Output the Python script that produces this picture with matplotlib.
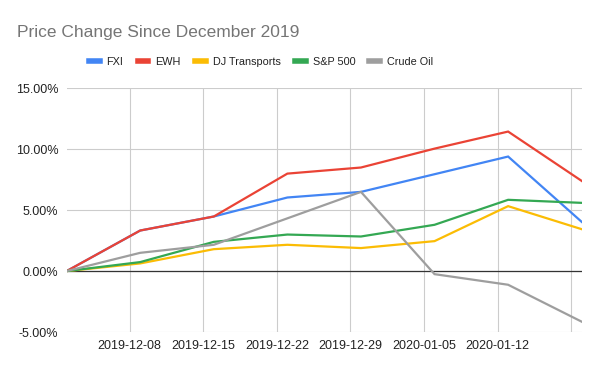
import numpy as np
import matplotlib
matplotlib.use("Agg")
import matplotlib.pyplot as plt
import matplotlib.dates as mdates
from matplotlib.ticker import FuncFormatter, FixedLocator

plt.rcParams['font.family'] = ['Liberation Sans', 'DejaVu Sans']

# weekly closes, % change since first week of December 2019
dates = np.array(['2019-12-02', '2019-12-09', '2019-12-16', '2019-12-23',
                  '2019-12-30', '2020-01-06', '2020-01-13', '2020-01-20'],
                 dtype='datetime64[D]')
fxi = [0.0, 3.33, 4.48, 6.04, 6.50, 7.95, 9.40, 4.04]
ewh = [0.0, 3.33, 4.48, 8.00, 8.50, 10.05, 11.45, 7.40]
dj_transports = [0.0, 0.63, 1.80, 2.16, 1.89, 2.46, 5.33, 3.44]
sp500 = [0.0, 0.74, 2.40, 3.00, 2.84, 3.80, 5.85, 5.60]
crude_oil = [0.0, 1.50, 2.16, 4.33, 6.50, -0.25, -1.12, -4.15]

series = [
    ('FXI', fxi, '#4285F4'),
    ('EWH', ewh, '#EA4335'),
    ('DJ Transports', dj_transports, '#FBBC04'),
    ('S&P 500', sp500, '#34A853'),
    ('Crude Oil', crude_oil, '#9E9E9E'),
]

tick_dates = np.array(['2019-12-08', '2019-12-15', '2019-12-22', '2019-12-29',
                       '2020-01-05', '2020-01-12', '2020-01-19'], dtype='datetime64[D]')
y_ticks = [-5, 0, 5, 10, 15]

fig = plt.figure(figsize=(6, 3.71), dpi=100)
ax = fig.add_axes([0.111, 0.105, 0.8585, 0.657])

x = mdates.date2num(dates.astype('datetime64[s]').astype(object))
for name, vals, color in series:
    ax.plot(x, vals, color=color, lw=1.6, label=name, solid_joinstyle='miter', zorder=3)

ax.set_xlim(x[0], x[-1])
ax.set_ylim(-5, 15)

tx = mdates.date2num(tick_dates.astype('datetime64[s]').astype(object))
ax.xaxis.set_major_locator(FixedLocator(tx))
labels = [str(d) for d in tick_dates]
labels[-1] = ''
ax.set_xticklabels(labels)
ax.set_yticks(y_ticks)
ax.yaxis.set_major_formatter(FuncFormatter(lambda v, p: f'{v:.2f}%'))

ax.grid(True, color='#cccccc', lw=0.8, zorder=0)
ax.axhline(0, color='#333333', lw=0.9, zorder=2)
for s in ax.spines.values():
    s.set_visible(False)
ax.tick_params(length=0, labelsize=9, colors='#222222', pad=6)

fig.text(0.028, 0.900, 'Price Change Since December 2019', fontsize=12.5,
         color='#757575', va='baseline')

leg = fig.legend(loc='center', bbox_to_anchor=(0.435, 0.833), ncol=5, frameon=False,
                 fontsize=7.8, handlelength=1.0, handletextpad=0.65, columnspacing=1.3,
                 labelcolor='#222222')
for h in leg.get_lines():
    h.set_linewidth(4)

fig.savefig('out.png', dpi=100)
